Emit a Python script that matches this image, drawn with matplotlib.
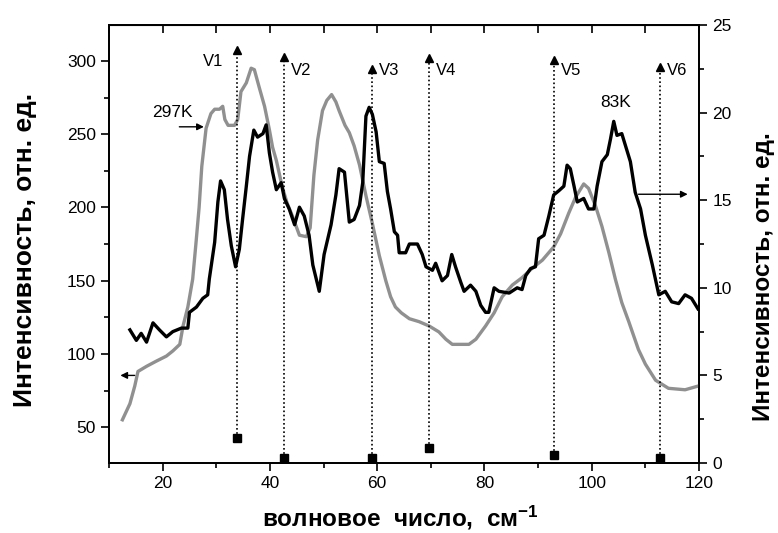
import matplotlib
matplotlib.use("Agg")
import matplotlib.pyplot as plt
from matplotlib.ticker import MultipleLocator

plt.rcParams['font.family'] = ['Liberation Sans', 'DejaVu Sans']
plt.rcParams['mathtext.fontset'] = 'custom'
plt.rcParams['mathtext.rm'] = 'Liberation Sans:bold'
plt.rcParams['mathtext.bf'] = 'Liberation Sans:bold'
plt.rcParams['mathtext.default'] = 'bf'

# 297K spectrum (grey, left axis)
x_297 = [12.5, 13.9, 14.8, 15.4, 17.0, 18.8, 20.7, 21.9, 23.2, 23.8, 24.7, 25.6,
         26.2, 26.8, 27.3, 28.1, 29.0, 29.7, 30.6, 31.2, 31.6, 32.2, 33.4, 34.0,
         34.6, 35.6, 36.5, 37.1, 38.0, 39.0, 39.9, 40.5, 41.2, 42.3, 43.2, 44.2,
         45.5, 46.8, 47.5, 48.2, 48.9, 49.8, 50.6, 51.5, 52.3, 52.9, 54.0, 54.8,
         55.7, 56.7, 57.9, 59.1, 60.4, 61.6, 62.5, 63.4, 64.5, 66.0, 67.8, 69.7,
         71.5, 72.8, 74.0, 77.1, 78.4, 80.2, 81.8, 83.3, 85.2, 87.0, 88.9, 90.8,
         92.9, 94.2, 95.7, 97.0, 98.5, 99.4, 100.7, 101.9, 103.2, 104.4, 105.6,
         106.9, 108.7, 110.0, 111.9, 114.3, 117.4, 119.8]
y_297 = [55, 66, 78, 88, 91.5, 95, 98.5, 102, 106.5, 119, 132, 151,
         175, 200, 228, 254, 264, 267, 267, 269, 260, 256, 256, 260,
         279, 285, 295, 294, 282, 269, 253, 241, 232, 214, 203, 194,
         181, 180, 186, 222, 246, 266, 273, 277, 272, 266, 256, 251,
         242, 229, 208, 189, 167, 150, 139, 132, 128, 124, 122, 119,
         115, 110, 106.5, 106.5, 110, 119, 128, 139, 147, 152, 158.5, 164,
         173, 182, 196, 207, 216, 213, 201, 187, 169, 151, 135,
         122, 103, 93, 82, 76.5, 75.5, 78]

# 83K spectrum (black, right axis)
x_83 = [13.9, 15.1, 16.0, 17.0, 18.2, 19.4, 20.7, 21.9, 23.5, 24.7, 25.0, 26.3,
        27.5, 28.4, 28.7, 29.7, 30.3, 30.8, 31.5, 32.1, 32.8, 33.6, 34.3, 34.9,
        35.6, 36.2, 37.0, 37.7, 38.7, 39.3, 39.9, 40.5, 41.2, 42.1, 42.7, 43.6,
        44.6, 45.5, 46.4, 47.3, 48.0, 49.2, 50.1, 51.4, 52.3, 52.9, 53.9, 54.8,
        55.7, 56.7, 57.3, 57.9, 58.5, 59.1, 59.8, 60.4, 61.3, 61.9, 62.5, 63.2,
        63.8, 64.1, 65.3, 66.0, 67.5, 68.4, 69.1, 70.3, 70.9, 71.5, 72.1, 73.1,
        73.9, 74.6, 75.6, 76.2, 77.4, 78.4, 79.3, 80.2, 80.8, 81.8, 82.7, 84.6,
        86.1, 87.0, 87.7, 88.6, 89.5, 90.1, 91.1, 92.0, 92.9, 93.9, 94.8, 95.4,
        96.0, 96.7, 97.3, 98.5, 99.4, 100.4, 101.0, 101.9, 102.9, 103.5, 104.1,
        104.7, 105.6, 106.3, 107.2, 108.1, 109.1, 110.0, 111.3, 112.5, 113.7,
        114.9, 116.2, 117.4, 118.6, 119.8]
y_83 = [7.6, 7.0, 7.4, 6.9, 8.0, 7.6, 7.2, 7.5, 7.7, 7.7, 8.6, 8.9,
        9.4, 9.6, 10.5, 12.6, 14.9, 16.1, 15.6, 13.9, 12.4, 11.2, 12.2, 13.9,
        15.8, 17.5, 19.0, 18.6, 18.8, 19.3, 17.7, 16.6, 15.6, 16.0, 15.1, 14.5,
        13.6, 14.6, 14.1, 13.0, 11.3, 9.8, 11.9, 13.6, 15.3, 16.8, 16.6, 13.75,
        13.9, 14.7, 16.0, 19.8, 20.3, 19.9, 18.9, 17.2, 17.1, 15.5, 14.5, 13.2,
        13.0, 12.0, 12.0, 12.5, 12.5, 11.9, 11.2, 11.0, 11.4, 10.9, 10.4, 10.7,
        11.9, 11.2, 10.3, 9.8, 10.15, 9.8, 9.0, 8.6, 8.6, 10.0, 9.8, 9.7,
        10.0, 9.9, 10.7, 11.1, 11.2, 12.8, 13.0, 14.1, 15.3, 15.55, 15.8, 17.0,
        16.8, 15.8, 14.9, 15.1, 14.5, 14.5, 15.8, 17.2, 17.6, 18.5, 19.5,
        18.7, 18.8, 18.1, 17.2, 15.45, 14.5, 13.0, 11.3, 9.6, 9.8,
        9.2, 9.1, 9.6, 9.4, 8.8]

# mode positions V1..V6 (right axis units)
v_labels = ['V1', 'V2', 'V3', 'V4', 'V5', 'V6']
v_pos = [33.9, 42.7, 59.1, 69.7, 93.0, 112.8]
v_low = [1.42, 0.28, 0.28, 0.85, 0.45, 0.30]
v_high = [23.6, 23.2, 22.5, 23.1, 23.0, 22.6]


def main():
    fig = plt.figure(figsize=(7.78, 5.33), dpi=100)
    ax = fig.add_axes([0.1401, 0.1313, 0.7584, 0.8218])
    ax2 = ax.twinx()

    ax.plot(x_297, y_297, color='#909090', lw=2.4, zorder=3)
    ax2.plot(x_83, y_83, color='black', lw=2.4, zorder=4)

    for i in range(len(v_pos)):
        ax2.plot([v_pos[i], v_pos[i]], [v_low[i], v_high[i]], color='black',
                 lw=1.2, ls=(0, (1, 1.5)), zorder=2)
        ax2.plot(v_pos[i], v_low[i], 's', color='black', ms=5.5, zorder=5)
        ax2.plot(v_pos[i], v_high[i], '^', color='black', ms=5.5, zorder=5)
        if i == 0:
            ax2.text(v_pos[i] - 2.6, 22.9, v_labels[i], fontsize=12,
                     ha='right', va='center')
        else:
            ax2.text(v_pos[i] + 1.2, 22.4, v_labels[i], fontsize=12,
                     ha='left', va='center')

    # temperature labels and axis arrows
    ax.text(21.9, 265, '297K', fontsize=12.5, ha='center', va='center')
    ax.annotate('', xy=(28.2, 255), xytext=(22.6, 255),
                arrowprops=dict(arrowstyle='-|>', color='black', lw=1,
                                mutation_scale=10))
    ax.annotate('', xy=(11.6, 85.3), xytext=(15.3, 85.3),
                arrowprops=dict(arrowstyle='-|>', color='black', lw=1,
                                mutation_scale=10))
    ax2.text(104.5, 20.6, '83K', fontsize=12.5, ha='center', va='center')
    ax2.annotate('', xy=(118.4, 15.34), xytext=(108.2, 15.34),
                 arrowprops=dict(arrowstyle='-|>', color='black', lw=1,
                                 mutation_scale=10))

    ax.set_xlim(10, 120)
    ax.set_ylim(25.5, 324.5)
    ax2.set_ylim(0, 25)

    ax.xaxis.set_major_locator(MultipleLocator(20))
    ax.xaxis.set_minor_locator(MultipleLocator(10))
    ax.yaxis.set_major_locator(MultipleLocator(50))
    ax.yaxis.set_minor_locator(MultipleLocator(25))
    ax2.yaxis.set_major_locator(MultipleLocator(5))
    ax2.yaxis.set_minor_locator(MultipleLocator(2.5))

    ax.tick_params(axis='both', which='major', direction='out', length=6,
                   width=1.2, labelsize=12.5)
    ax.tick_params(axis='both', which='minor', direction='out', length=3.5,
                   width=1.2)
    ax2.tick_params(axis='y', which='major', direction='out', length=6,
                    width=1.2, labelsize=12.5)
    ax2.tick_params(axis='y', which='minor', direction='out', length=3.5,
                    width=1.2)

    # inward ticks on top edge every 10
    top = ax.secondary_xaxis('top')
    top.xaxis.set_major_locator(MultipleLocator(10))
    top.tick_params(direction='in', length=6, width=1.2, labeltop=False)

    for a in (ax, ax2):
        for s in a.spines.values():
            s.set_linewidth(1.3)

    fig.text(0.514, 0.028, 'волновое  число,  см$^{-1}$', fontsize=17.5,
             fontweight='bold', ha='center', va='center')
    fig.text(0.032, 0.531, 'Интенсивность, отн. ед.', fontsize=19,
             fontweight='bold', rotation=90, ha='center', va='center')
    fig.text(0.982, 0.481, 'Интенсивность, отн. ед.', fontsize=17.5,
             fontweight='bold', rotation=90, ha='center', va='center')

    fig.savefig('out.png', dpi=100)


if __name__ == "__main__":
    main()
